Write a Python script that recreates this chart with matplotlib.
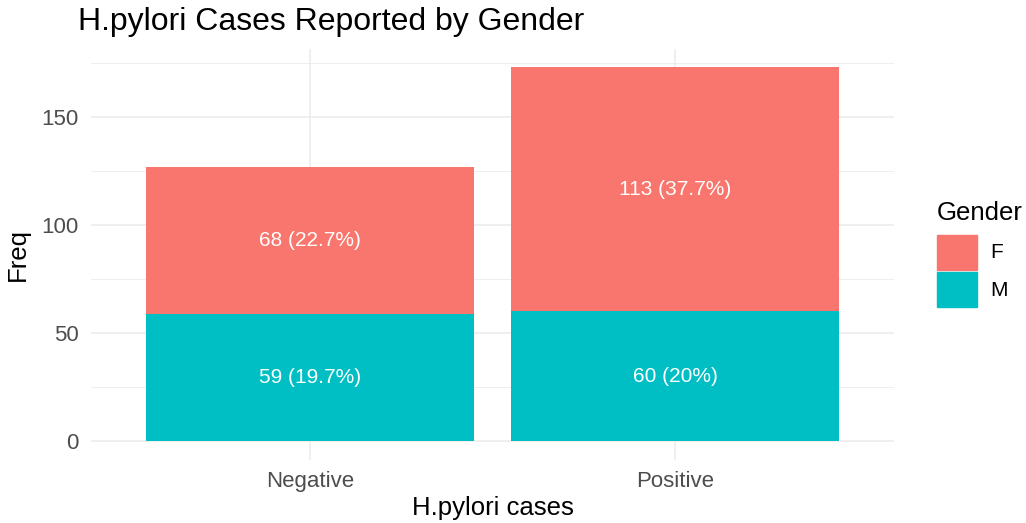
import matplotlib
matplotlib.use("Agg")
import matplotlib.pyplot as plt
import numpy as np
from matplotlib.patches import Rectangle

categories = ["Negative", "Positive"]
genders = ["F", "M"]
male_counts = [59, 60]
female_counts = [68, 113]
male_labels = ["59 (19.7%)", "60 (20%)"]
female_labels = ["68 (22.7%)", "113 (37.7%)"]
colors = {"F": "#F8766D", "M": "#00BFC4"}

plt.rcParams['font.family'] = ['Liberation Sans', 'DejaVu Sans']

W, H = 1026, 523
fig = plt.figure(figsize=(W / 100, H / 100), dpi=100)
left, right, top, bottom = 91, 894, 48.6, 459.7
ax = fig.add_axes([left / W, 1 - bottom / H, (right - left) / W, (bottom - top) / H])

x = np.arange(1, len(categories) + 1)
width = 0.9
ax.bar(x, male_counts, width=width, color=colors["M"], zorder=3)
ax.bar(x, female_counts, width=width, bottom=male_counts, color=colors["F"], zorder=3)

for xi, m, f, ml, fl in zip(x, male_counts, female_counts, male_labels, female_labels):
    ax.text(xi, m / 2, ml, color="white", ha="center", va="center", fontsize=15, zorder=4)
    ax.text(xi, m + f / 2, fl, color="white", ha="center", va="center", fontsize=15, zorder=4)

ymax = max(m + f for m, f in zip(male_counts, female_counts))
ax.set_ylim(-0.05 * ymax, ymax * 1.05)
ax.set_xlim(0.4, 2.6)

ax.set_yticks([0, 50, 100, 150])
ax.set_yticks([25, 75, 125, 175], minor=True)
ax.set_xticks(x)
ax.set_xticklabels(categories)
ax.grid(True, which="major", color="#EBEBEB", linewidth=1.1, zorder=0)
ax.grid(True, which="minor", axis="y", color="#EBEBEB", linewidth=0.6, zorder=0)
for s in ax.spines.values():
    s.set_visible(False)
ax.tick_params(which="both", length=0)
ax.tick_params(axis="y", labelsize=16, labelcolor="#4D4D4D", pad=9)
ax.tick_params(axis="x", labelsize=16, labelcolor="#4D4D4D", pad=8)

ax.set_ylabel("Freq", fontsize=18.5, labelpad=8)
ax.set_xlabel("H.pylori cases", fontsize=18.5, labelpad=3)

fig.text(78 / W, 1 - 22 / H, "H.pylori Cases Reported by Gender", fontsize=23,
         ha="left", va="center")

# legend
fig.text(937 / W, 1 - 213 / H, "Gender", fontsize=18.5, ha="left", va="center")
for i, g in enumerate(genders):
    y0 = 235 + i * 37
    fig.patches.append(Rectangle((937 / W, 1 - (y0 + 35) / H), 40 / W, 35 / H,
                                 transform=fig.transFigure, color=colors[g]))
    fig.text(990 / W, 1 - (y0 + 18) / H, g, fontsize=15, ha="left", va="center")

fig.savefig("out.png", dpi=100, facecolor="white")
